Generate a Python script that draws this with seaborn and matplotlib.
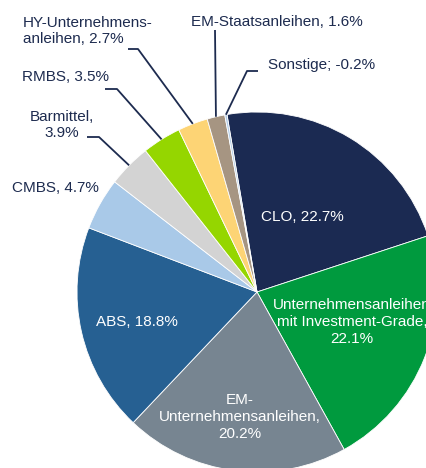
import numpy as np
import matplotlib
matplotlib.use("Agg")
import matplotlib.pyplot as plt
import seaborn as sns

# Portfolio allocation (%), clockwise from the top
categories = [
    "CLO",
    "Unternehmensanleihen mit Investment-Grade",
    "EM-Unternehmensanleihen",
    "ABS",
    "CMBS",
    "Barmittel",
    "RMBS",
    "HY-Unternehmensanleihen",
    "EM-Staatsanleihen",
    "Sonstige",
]
shares = [22.7, 22.1, 20.2, 18.8, 4.7, 3.9, 3.5, 2.7, 1.6, -0.2]
labels = [
    "CLO, 22.7%",
    "Unternehmensanleihen\nmit Investment-Grade,\n22.1%",
    "EM-\nUnternehmensanleihen,\n20.2%",
    "ABS, 18.8%",
    "CMBS, 4.7%",
    "Barmittel,\n3.9%",
    "RMBS, 3.5%",
    "HY-Unternehmens-\nanleihen, 2.7%",
    "EM-Staatsanleihen, 1.6%",
    "Sonstige; -0.2%",
]
colors = [
    "#1b2a52", "#009a3e", "#778591", "#266092", "#a9c9e8",
    "#d3d3d3", "#95d600", "#fdd475", "#a69582", "#b4cde6",
]

sns.set_theme(style="white")
plt.rcParams["font.family"] = ["Liberation Sans", "DejaVu Sans"]

W, H = 427, 468
fig = plt.figure(figsize=(W / 100, H / 100), dpi=100)
ax = fig.add_axes([0, 0, 1, 1])

cx, cy, r = 257, H - 292, 180
wedges, _ = ax.pie(
    np.abs(shares),
    colors=colors,
    startangle=99.6,
    counterclock=False,
    center=(cx, cy),
    radius=r,
    wedgeprops=dict(edgecolor="white", linewidth=0.6),
)
ax.set_xlim(0, W)
ax.set_ylim(0, H)
ax.set_aspect("equal")
ax.axis("off")


def rim(i):
    w = wedges[i]
    t = np.deg2rad((w.theta1 + w.theta2) / 2)
    return cx + r * np.cos(t), cy + r * np.sin(t)


fs = 11
navy = "#1d2b4f"

# labels inside the pie (pixel positions, y from top)
inside = {0: (302, 217), 1: (352, 322), 2: (240, 417), 3: (137, 322)}
for i, (x, y) in inside.items():
    ax.text(x, H - y, labels[i], color="white", fontsize=fs, ha="center",
            va="center", linespacing=1.25, multialignment="center")

# labels outside: (text x, text y, ha, leader path start points)
outside = {
    4: (12, 188, "left", []),
    5: (62, 125, "center", [(87, 137), (99, 137)]),
    6: (22, 77, "left", [(105, 89), (117, 89)]),
    7: (23, 31, "left", [(128, 49), (138, 49)]),
    8: (191, 22, "left", [(215, 30)]),
    9: (268, 65, "left", [(258, 71), (247, 71)]),
}
for i, (x, y, ha, path) in outside.items():
    ax.text(x, H - y, labels[i], color=navy, fontsize=fs, ha=ha, va="center",
            linespacing=1.25, multialignment=ha)
    if path:
        xs = [p[0] for p in path] + [rim(i)[0]]
        ys = [H - p[1] for p in path] + [rim(i)[1]]
        ax.plot(xs, ys, color=navy, linewidth=1.3, solid_capstyle="butt")

fig.savefig("out.png", dpi=100)
plt.close(fig)
